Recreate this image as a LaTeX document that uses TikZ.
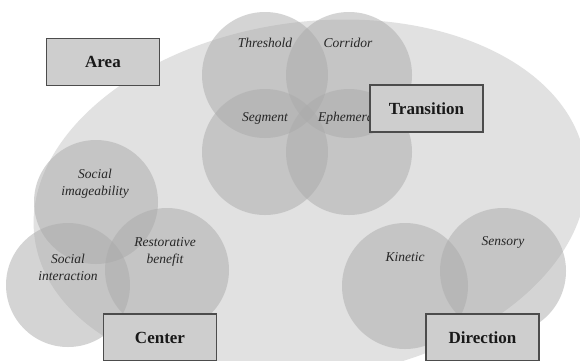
\documentclass[tikz,border=0pt]{standalone}
\usepackage{fontspec}
\setmainfont{Liberation Serif}
\begin{document}
\begin{tikzpicture}[x=1pt,y=-1pt,
  bubble/.style={fill=bubblegray,fill opacity=0.5,draw=none},
  lbl/.style={font=\fontsize{13.5}{17}\selectfont\itshape,text=black!85,align=center,inner sep=0pt},
  catbox/.style={draw=black!70,line width=1.2pt,fill=boxgray,minimum width=113pt,minimum height=47pt,
    font=\fontsize{17}{18}\selectfont\bfseries,text=black!90,inner sep=0pt}]
\definecolor{bubblegray}{RGB}{171,171,171}
\definecolor{ellgray}{RGB}{225,225,225}
\definecolor{boxgray}{RGB}{206,206,206}
\useasboundingbox (0,0) rectangle (580,360);
\clip (0,0) rectangle (580,360);
\fill[white] (0,0) rectangle (580,360);
% large background ellipse
\fill[ellgray,rotate around={8:(310,200)}] (310,200) ellipse (278 and 178);
% circles
\fill[bubble] (265,75) circle (63);
\fill[bubble] (349,75) circle (63);
\fill[bubble] (265,152) circle (63);
\fill[bubble] (349,152) circle (63);
\fill[bubble] (96,202) circle (62);
\fill[bubble] (68,285) circle (62);
\fill[bubble] (167,270) circle (62);
\fill[bubble] (405,286) circle (63);
\fill[bubble] (503,271) circle (63);
% labels
\node[lbl] (thr) at (265,43) {Threshold};
\node[lbl] (cor) at (348,43) {Corridor};
\node[lbl] (seg) at (265,118) {Segment};
\node[lbl,anchor=west] (eph) at (318,118) {Ephemeral};
\node[lbl] (sim) at (95,184) {Social\\imageability};
\node[lbl] (sin) at (68,267) {Social\\interaction};
\node[lbl] (res) at (165,252) {Restorative\\benefit};
\node[lbl] (kin) at (405,257) {Kinetic};
\node[lbl] (sen) at (503,242) {Sensory};
% category boxes
\node[catbox] (area) at (103,62) {Area};
\node[catbox] (trans) at (426.5,108.5) {Transition};
\node[catbox] (center) at (160,337.5) {Center};
\node[catbox] (dir) at (482.5,337.5) {Direction};
\end{tikzpicture}
\end{document}
